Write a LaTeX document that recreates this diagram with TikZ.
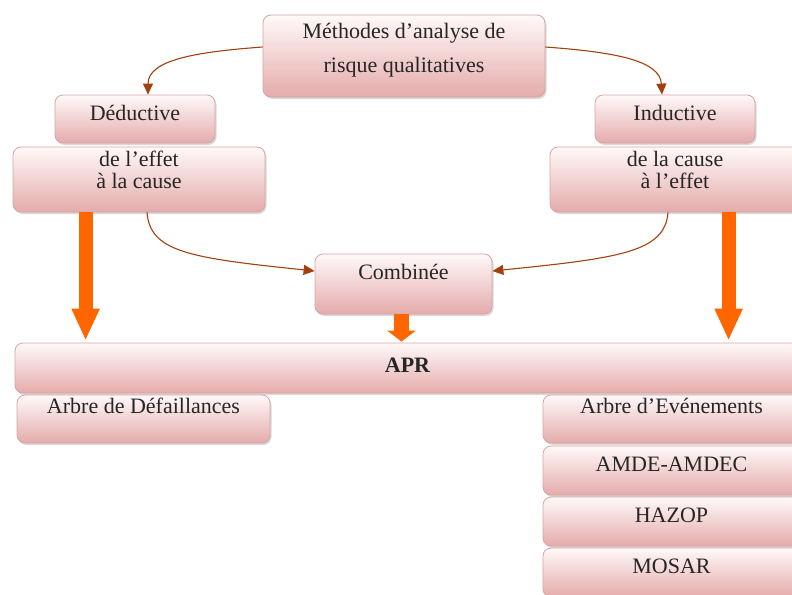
\documentclass[tikz,border=0pt]{standalone}
\usepackage{fontspec}
\setmainfont{Liberation Serif}
\usetikzlibrary{arrows.meta,shadows}
\definecolor{boxline}{HTML}{D9A3A3}
\definecolor{boxtop}{HTML}{FFF9F9}
\definecolor{boxbottom}{HTML}{E5ABAB}
\definecolor{linkbrown}{HTML}{A3410E}
\definecolor{flowfill}{HTML}{FF6600}
\begin{document}
\begin{tikzpicture}[x=1pt,y=-1pt,
		box/.style={draw=boxline, line width=0.8pt, rounded corners=8pt,
			top color=boxtop, bottom color=boxbottom,
			drop shadow={shadow xshift=1.5pt,shadow yshift=-2pt,opacity=0.3},
			inner sep=0pt, align=center, text=black!85,
			font=\fontsize{22}{22}\selectfont, text height=15pt, text depth=14pt},
		link/.style={linkbrown, line width=1.1pt, -{Triangle[length=11pt,width=10pt]}},
		flow/.style={flowfill, line width=14pt, -{Triangle[length=32pt,width=26pt]}},
		shortflow/.style={flowfill, line width=15pt, -{Triangle[length=11pt,width=28pt]}}]
			\useasboundingbox (0,0) rectangle (792,594);
			\node [box, minimum width=282pt, minimum height=82pt, text height=50pt, text depth=18pt] (methodes) at (404,56) {Méthodes d’analyse de\\[11pt]risque qualitatives};
			\node [box, minimum width=160pt, minimum height=48pt, text depth=13pt] (deductive) at (135,119) {Déductive};
			\node [box, minimum width=160pt, minimum height=48pt, text depth=13pt] (inductive) at (675,119) {Inductive};
			\node [box, minimum width=252pt, minimum height=65pt, text height=37pt, text depth=20pt] (effetcause) at (139,179.5) {de l’effet\\à la cause};
			\node [box, minimum width=250pt, minimum height=65pt, text height=37pt, text depth=20pt] (causeeffet) at (675,179.5) {de la cause\\à l’effet};
			\node [box, minimum width=177pt, minimum height=60pt, text depth=25pt] (combinee) at (403.5,284) {Combinée};
			\node [box, minimum width=785pt, minimum height=50pt, text depth=6pt, font=\fontsize{22}{22}\selectfont\bfseries] (apr) at (407.5,368) {APR};
			\node [box, minimum width=253pt, minimum height=48pt, text depth=27pt] (defaillances) at (143.5,419) {Arbre de Défaillances};
			\node [box, minimum width=257pt, minimum height=48pt, text depth=27pt] (evenements) at (671.5,419) {Arbre d’Evénements};
			\node [box, minimum width=257pt, minimum height=49pt] (amde) at (671.5,470.5) {AMDE-AMDEC};
			\node [box, minimum width=257pt, minimum height=49pt] (hazop) at (671.5,521.5) {HAZOP};
			\node [box, minimum width=257pt, minimum height=49pt] (mosar) at (671.5,572.5) {MOSAR};
			\draw [link] ([yshift=9pt]methodes.west) .. controls (195,52) and (148,60) .. ([xshift=13pt]deductive.north);
			\draw [link] ([yshift=9pt]methodes.east) .. controls (613,52) and (660,60) .. ([xshift=-13pt]inductive.north);
			\draw [link] ([xshift=8pt]effetcause.south) .. controls (150,252) and (190,258) .. ([yshift=13pt]combinee.west);
			\draw [link] ([xshift=-7pt]causeeffet.south) .. controls (665,252) and (620,258) .. ([yshift=13pt]combinee.east);
			\draw [flow] ([xshift=73pt]effetcause.south west) -- ([xshift=73pt,yshift=2pt]effetcause.south west |- apr.north);
			\draw [flow] ([xshift=179pt]causeeffet.south west) -- ([xshift=179pt,yshift=2pt]causeeffet.south west |- apr.north);
			\draw [shortflow] ([xshift=-2pt]combinee.south) -- ([xshift=-2pt,yshift=1pt]combinee.south |- apr.north);
\end{tikzpicture}
\end{document}
